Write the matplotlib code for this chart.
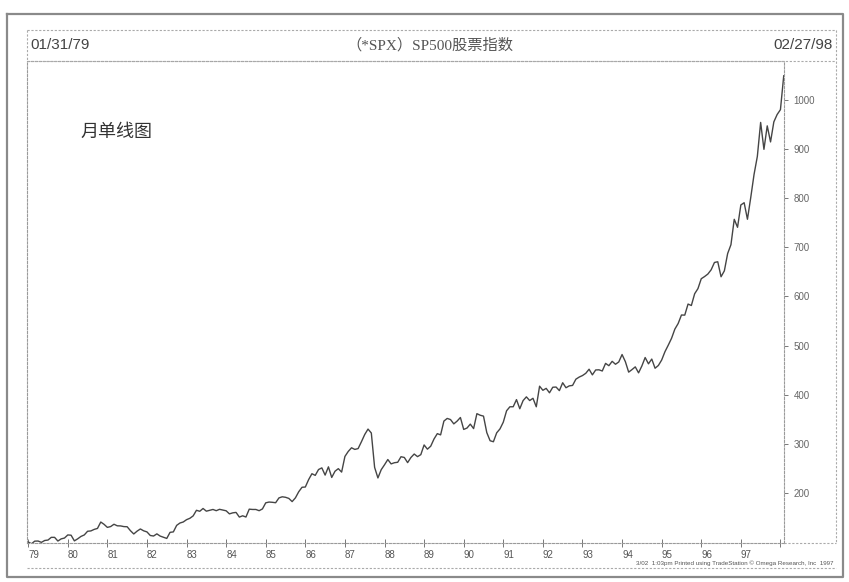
import matplotlib
matplotlib.use("Agg")
import matplotlib.pyplot as plt
import matplotlib.transforms as mtransforms
import numpy as np

plt.rcParams['font.family'] = ['Noto Sans CJK SC', 'DejaVu Sans']

# Monthly closes (Jan 1979 .. Feb 1998)
closes_1979 = [99.9, 96.3, 101.6, 101.8, 99.1, 102.9, 103.8, 109.3, 109.3, 101.8, 106.2, 107.9]
closes_1980 = [114.2, 113.7, 102.1, 106.3, 111.2, 114.2, 121.7, 122.4, 125.5, 127.5, 140.5, 135.8]
closes_1981 = [129.6, 131.3, 136.0, 132.8, 132.6, 131.2, 130.9, 122.8, 116.2, 121.9, 126.4, 122.6]
closes_1982 = [120.4, 113.1, 112.0, 116.4, 111.9, 109.6, 107.1, 119.5, 120.4, 133.7, 138.5, 140.6]
closes_1983 = [145.3, 148.1, 153.0, 164.4, 162.4, 168.1, 162.6, 164.4, 166.1, 163.6, 166.4, 164.9]
closes_1984 = [163.4, 157.1, 159.2, 160.1, 150.6, 153.2, 150.7, 166.7, 166.1, 166.1, 163.6, 167.2]
closes_1985 = [179.6, 181.2, 180.7, 179.8, 189.6, 191.9, 190.9, 188.6, 182.1, 189.8, 202.2, 211.3]
closes_1986 = [211.8, 226.9, 238.9, 235.5, 247.4, 250.8, 236.1, 252.9, 231.3, 244.0, 249.2, 242.2]
closes_1987 = [274.1, 284.2, 291.7, 288.4, 290.1, 304.0, 318.7, 329.8, 321.8, 251.8, 230.3, 247.1]
closes_1988 = [257.1, 267.8, 258.9, 261.3, 262.2, 273.5, 272.0, 261.5, 271.9, 279.0, 273.7, 277.7]
closes_1989 = [297.5, 288.9, 294.9, 309.6, 320.5, 318.0, 346.1, 351.5, 349.2, 340.4, 346.0, 353.4]
closes_1990 = [329.1, 331.9, 339.9, 330.8, 361.2, 358.0, 356.2, 322.6, 306.1, 304.0, 322.2, 330.2]
closes_1991 = [343.9, 367.1, 375.2, 375.3, 389.8, 371.2, 387.8, 395.4, 387.9, 392.5, 375.2, 417.1]
closes_1992 = [408.8, 412.7, 403.7, 415.0, 415.4, 408.1, 424.2, 414.0, 417.8, 418.7, 431.4, 435.7]
closes_1993 = [438.8, 443.4, 451.7, 440.2, 450.2, 450.5, 448.1, 463.6, 458.9, 467.8, 461.8, 466.5]
closes_1994 = [481.6, 467.1, 445.8, 450.9, 456.5, 444.3, 458.3, 475.5, 462.7, 472.4, 453.7, 459.3]
closes_1995 = [470.4, 487.4, 500.7, 514.7, 533.4, 544.8, 562.1, 561.9, 584.4, 581.5, 605.4, 615.9]
closes_1996 = [636.0, 640.4, 645.5, 654.2, 669.1, 670.6, 640.0, 652.0, 687.3, 705.3, 757.0, 740.7]
closes_1997 = [786.2, 790.8, 757.1, 801.3, 848.3, 885.1, 954.3, 899.5, 947.3, 914.6, 955.4, 970.4]
closes_1998 = [980.3, 1049.3]

year_labels = ["79", "80", "81", "82", "83", "84", "85", "86", "87", "88",
               "89", "90", "91", "92", "93", "94", "95", "96", "97", ""]
price_ticks = [200, 300, 400, 500, 600, 700, 800, 900, 1000]

title_text = "（*SPX）SP500股票指数"
start_date = "01/31/79"
end_date = "02/27/98"
chart_note = "月单线图"
footer_text = "3/02  1:03pm Printed using TradeStation © Omega Research, Inc  1997"

all_years = [closes_1979, closes_1980, closes_1981, closes_1982, closes_1983,
             closes_1984, closes_1985, closes_1986, closes_1987, closes_1988,
             closes_1989, closes_1990, closes_1991, closes_1992, closes_1993,
             closes_1994, closes_1995, closes_1996, closes_1997, closes_1998]
values = []
times = []
for i, yr in enumerate(all_years):
    for m, v in enumerate(yr):
        values.append(v)
        times.append(1979 + i + m / 12.0)

W, H = 849, 582
fig = plt.figure(figsize=(W / 100, H / 100), dpi=100)
fig.patch.set_facecolor('white')

def fx(x):
    return x / W

def fy(y):
    return 1 - y / H

L, R, T, B = 27, 784, 61, 543
ax = fig.add_axes([fx(L), fy(B), fx(R) - fx(L), fy(T) - fy(B)])
ax.plot(times, values, color='#454545', lw=1.0)
ax.set_xlim(1978.97, 1998.09)
ax.set_ylim(97.8, 1079.4)

grey = '#9a9a9a'
for s in ['left', 'top', 'bottom', 'right']:
    ax.spines[s].set_color(grey)
    ax.spines[s].set_linewidth(0.8)
    ax.spines[s].set_linestyle((0, (2, 1.5)))

ax.set_xticks(np.arange(1979, 1999))
ax.set_xticklabels(year_labels, fontsize=7, color='#555555', ha='left',
                   family=['Liberation Sans'])
offset = mtransforms.ScaledTranslation(2 / 100, 0, fig.dpi_scale_trans)
for lab in ax.get_xticklabels():
    lab.set_transform(lab.get_transform() + offset)
ax.tick_params(axis='x', direction='inout', length=6, width=0.7, color='#777777', pad=2)

ax.yaxis.tick_right()
ax.set_yticks(price_ticks)
ax.set_yticklabels([str(t) for t in price_ticks], fontsize=7, color='#666666',
                   family=['Liberation Sans'])
ax.tick_params(axis='y', direction='out', length=3, width=0.7, color='#777777', pad=4)

# Outer frame and header / side boxes drawn in figure coordinates
def fline(xs, ys, **kw):
    fig.add_artist(plt.Line2D([fx(x) for x in xs], [fy(y) for y in ys], **kw))

fline([7, 843, 843, 7, 7], [14, 14, 577, 577, 14], color='#8a8a8a', lw=1.6)
dot = dict(color='#aaaaaa', lw=0.8, linestyle=(0, (2, 1.5)))
fline([27, 836], [30, 30], **dot)
fline([27, 836], [61, 61], **dot)
fline([27, 27], [30, 61], **dot)
fline([836, 836], [30, 543], **dot)
fline([784, 836], [543, 543], **dot)
fline([27, 836], [568, 568], **dot)

fig.text(fx(30), fy(45), start_date, fontsize=11, color='#444444', ha='left', va='center',
         family=['Liberation Sans'])
fig.text(fx(833), fy(45), end_date, fontsize=11, color='#444444', ha='right', va='center',
         family=['Liberation Sans'])
fig.text(fx(430), fy(45), title_text, fontsize=11, color='#555555', ha='center', va='center',
         family=['Liberation Serif', 'Noto Sans CJK SC'])
fig.text(fx(80), fy(132), chart_note, fontsize=13, color='#333333', ha='left', va='center')
fig.text(fx(833), fy(563), footer_text, fontsize=4.5, color='#555555', ha='right', va='center',
         family=['Liberation Sans'])

fig.savefig('out.png', dpi=100)
